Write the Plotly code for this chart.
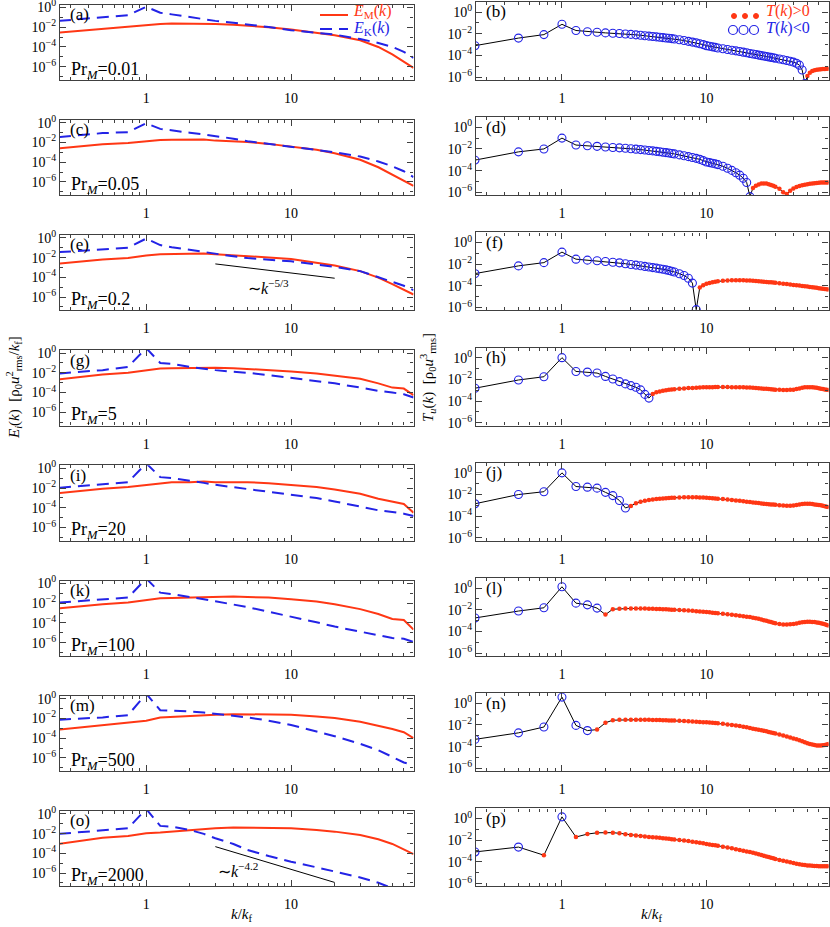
import plotly.graph_objects as go

W, H = 830, 927
SERIF = "Liberation Serif, Times New Roman, serif"
RED = "rgb(255,55,20)"
BLUE = "rgb(35,35,230)"
FRAME = "#404040"

# ---------------- data (log10 values) ----------------
# left column: magnetic (E_M) and kinetic (E_K) spectra
K_E = [0.25, 0.5, 0.75, 1, 1.25, 1.5, 2, 2.5, 3, 4, 5, 7, 10, 15, 20, 30, 40, 50, 60, 70]

EM_a = [-2.55, -2.14, -1.97, -1.77, -1.67, -1.63, -1.62, -1.62, -1.68, -1.76, -1.84, -2.0, -2.24, -2.55, -2.82, -3.33, -4.0, -4.75, -5.5, -6.12]
EK_a = [-1.36, -0.95, -0.78, 0.07, -0.54, -0.7, -1.0, -1.2, -1.36, -1.55, -1.7, -1.98, -2.3, -2.55, -2.75, -3.2, -3.6, -4.0, -4.5, -5.1]
EM_c = [-2.6, -2.18, -2.05, -1.88, -1.75, -1.73, -1.72, -1.7, -1.82, -1.9, -1.95, -2.15, -2.41, -2.75, -3.1, -3.76, -4.52, -5.25, -5.84, -6.4]
EK_c = [-1.45, -1.06, -0.96, -0.07, -0.63, -0.8, -1.02, -1.2, -1.35, -1.62, -1.88, -2.15, -2.44, -2.75, -3.0, -3.43, -3.93, -4.42, -4.92, -5.51]
EM_e = [-2.6, -2.18, -2.05, -1.78, -1.65, -1.63, -1.62, -1.58, -1.65, -1.74, -1.82, -1.98, -2.15, -2.5, -2.8, -3.37, -4.03, -4.69, -5.28, -5.74]
EK_e = [-1.45, -1.16, -1.0, -0.07, -0.73, -0.95, -1.22, -1.45, -1.65, -1.87, -2.05, -2.22, -2.38, -2.7, -2.94, -3.37, -3.96, -4.45, -4.85, -5.3]
EM_g = [-2.67, -2.17, -2.0, -1.73, -1.57, -1.53, -1.5, -1.45, -1.5, -1.53, -1.6, -1.7, -1.87, -2.07, -2.27, -2.6, -3.07, -3.5, -3.6, -4.27]
EK_g = [-2.07, -1.73, -1.4, 0.5, -1.0, -1.1, -1.4, -1.6, -1.73, -1.9, -2.0, -2.23, -2.5, -2.83, -3.07, -3.5, -3.83, -4.0, -4.17, -4.5]
EM_i = [-2.52, -2.08, -1.91, -1.68, -1.48, -1.41, -1.41, -1.35, -1.41, -1.38, -1.41, -1.51, -1.68, -1.91, -2.15, -2.58, -3.09, -3.42, -3.62, -4.5]
EK_i = [-1.98, -1.58, -1.41, 0.5, -0.9, -1.0, -1.24, -1.48, -1.68, -1.91, -2.08, -2.35, -2.68, -3.02, -3.36, -3.93, -4.26, -4.43, -4.6, -4.83]
EM_k = [-2.53, -2.1, -1.93, -1.67, -1.5, -1.47, -1.43, -1.37, -1.37, -1.33, -1.37, -1.43, -1.6, -1.83, -2.1, -2.6, -3.1, -3.6, -3.7, -4.67]
EK_k = [-1.93, -1.6, -1.43, 0.5, -0.93, -1.07, -1.33, -1.6, -1.8, -2.13, -2.4, -2.87, -3.33, -3.93, -4.37, -4.87, -5.27, -5.53, -5.6, -5.93]
EM_m = [-3.13, -2.67, -2.47, -2.23, -1.9, -1.83, -1.73, -1.63, -1.63, -1.57, -1.57, -1.57, -1.63, -1.8, -1.97, -2.33, -2.73, -3.07, -3.4, -4.0]
EK_m = [-2.13, -1.9, -1.67, 0.5, -1.17, -1.2, -1.3, -1.4, -1.53, -1.73, -1.9, -2.23, -2.67, -3.33, -3.8, -4.57, -5.23, -5.9, -6.47, -6.73]
EM_o = [-3.05, -2.41, -2.24, -1.97, -1.9, -1.8, -1.63, -1.49, -1.46, -1.39, -1.39, -1.39, -1.46, -1.63, -1.8, -2.14, -2.58, -3.05, -3.59, -4.07]
EK_o = [-2.03, -1.63, -1.46, 0.5, -1.22, -1.29, -1.63, -2.03, -2.47, -3.05, -3.66, -4.27, -4.85, -5.42, -5.86, -6.44, -6.98, -7.56, -8.0, -8.24]

# power-law guide lines (k, log10 E)
GUIDE_K = [3, 20]
GUIDE_E = [-2.64, -4.09]
GUIDE_O = [-3.32, -6.95]

# right column: transfer |T(k)| (log10), sign given by the negative intervals
K_T = [0.25, 0.5, 0.75, 1, 1.25, 1.5, 1.75, 2, 2.25, 2.5, 2.75, 3, 3.25, 3.5, 3.75, 4, 4.25, 4.5, 4.75, 5, 5.25, 5.5, 5.75, 6,
       6.5, 7, 7.5, 8, 8.5, 9, 9.5, 10, 10.5, 11, 11.5, 12,
       13, 14, 15, 16, 17, 18, 19, 20, 21, 22, 23, 24, 25, 26, 27, 28, 29, 30,
       32, 34, 36, 38, 40, 42, 44, 46, 48, 50, 52, 54, 56, 58, 60, 62, 64, 66, 68, 70]

T_b = [-3.1, -2.4, -2.08, -1.13, -1.7, -1.82, -1.86, -1.92, -1.95, -1.98, -2.02, -2.06, -2.1, -2.14, -2.18, -2.22, -2.26, -2.29, -2.32, -2.36, -2.39, -2.42, -2.45, -2.48,
       -2.56, -2.63, -2.7, -2.77, -2.84, -2.92, -3.0, -3.1, -3.16, -3.21, -3.26, -3.31,
       -3.38, -3.45, -3.52, -3.58, -3.64, -3.7, -3.76, -3.82, -3.87, -3.92, -3.97, -4.02, -4.06, -4.1, -4.14, -4.18, -4.22, -4.26,
       -4.33, -4.4, -4.47, -4.54, -4.62, -4.72, -4.9, -5.35, -6.6, -5.9, -5.6, -5.45, -5.38, -5.33, -5.3, -5.28, -5.26, -5.25, -5.24, -5.23]
T_d = [-3.03, -2.27, -2.0, -1.0, -1.64, -1.7, -1.76, -1.82, -1.86, -1.9, -1.94, -1.98, -2.02, -2.06, -2.1, -2.14, -2.18, -2.22, -2.26, -2.3, -2.34, -2.38, -2.42, -2.46,
       -2.55, -2.63, -2.71, -2.79, -2.87, -2.96, -3.08, -3.2, -3.26, -3.32, -3.38, -3.45,
       -3.6, -3.78, -3.98, -4.2, -4.42, -4.7, -5.1, -6.4, -5.6, -5.4, -5.28, -5.2, -5.18, -5.2, -5.25, -5.32, -5.4, -5.48,
       -5.68, -6.0, -6.15, -5.85, -5.65, -5.52, -5.42, -5.35, -5.3, -5.26, -5.22, -5.19, -5.16, -5.14, -5.12, -5.1, -5.1, -5.1, -5.1, -5.1]
T_f = [-2.87, -2.16, -1.86, -0.89, -1.54, -1.63, -1.69, -1.76, -1.82, -1.88, -1.96, -2.03, -2.09, -2.15, -2.21, -2.27, -2.32, -2.37, -2.42, -2.47, -2.53, -2.59, -2.65, -2.72,
       -2.88, -3.05, -3.3, -3.75, -6.2, -4.15, -3.95, -3.82, -3.74, -3.68, -3.63, -3.59,
       -3.54, -3.51, -3.49, -3.48, -3.48, -3.49, -3.5, -3.52, -3.54, -3.56, -3.58, -3.6, -3.62, -3.64, -3.66, -3.68, -3.7, -3.72,
       -3.76, -3.8, -3.84, -3.88, -3.92, -3.95, -3.98, -4.01, -4.04, -4.07, -4.1, -4.13, -4.16, -4.19, -4.22, -4.25, -4.27, -4.29, -4.31, -4.33]
T_h = [-2.82, -2.06, -1.76, 0.0, -1.27, -1.33, -1.42, -1.73, -1.97, -2.21, -2.42, -2.58, -2.73, -2.97, -3.39, -3.73, -3.35, -3.2, -3.12, -3.06, -3.01, -2.97, -2.94, -2.91,
       -2.87, -2.84, -2.81, -2.79, -2.77, -2.75, -2.74, -2.73, -2.72, -2.72, -2.71, -2.71,
       -2.71, -2.71, -2.72, -2.72, -2.73, -2.74, -2.75, -2.76, -2.78, -2.8, -2.82, -2.84, -2.86, -2.88, -2.9, -2.92, -2.94, -2.95,
       -2.97, -2.98, -2.98, -2.97, -2.95, -2.9, -2.84, -2.78, -2.74, -2.72, -2.72, -2.73, -2.75, -2.78, -2.82, -2.86, -2.9, -2.93, -2.96, -2.99]
T_j = [-2.85, -2.0, -1.74, 0.0, -1.26, -1.32, -1.41, -1.8, -2.1, -2.55, -3.24, -3.06, -2.8, -2.66, -2.58, -2.51, -2.46, -2.42, -2.39, -2.36, -2.34, -2.32, -2.3, -2.29,
       -2.27, -2.26, -2.25, -2.25, -2.26, -2.27, -2.28, -2.3, -2.32, -2.34, -2.36, -2.38,
       -2.42, -2.46, -2.5, -2.54, -2.58, -2.62, -2.66, -2.7, -2.73, -2.76, -2.79, -2.82, -2.85, -2.87, -2.89, -2.91, -2.93, -2.95,
       -2.98, -3.01, -3.03, -3.03, -3.01, -2.97, -2.92, -2.88, -2.86, -2.85, -2.86, -2.88, -2.91, -2.94, -2.97, -3.0, -3.04, -3.08, -3.12, -3.16]
T_l = [-2.76, -2.12, -1.82, 0.12, -1.39, -1.55, -1.85, -2.45, -1.95, -1.9, -1.89, -1.88, -1.88, -1.88, -1.89, -1.9, -1.91, -1.92, -1.93, -1.95, -1.96, -1.97, -1.99, -2.0,
       -2.02, -2.04, -2.07, -2.1, -2.13, -2.16, -2.19, -2.21, -2.24, -2.27, -2.3, -2.33,
       -2.38, -2.42, -2.46, -2.5, -2.55, -2.6, -2.64, -2.68, -2.73, -2.78, -2.84, -2.9, -2.96, -3.02, -3.08, -3.14, -3.2, -3.25,
       -3.32, -3.36, -3.37, -3.35, -3.31, -3.26, -3.2, -3.16, -3.13, -3.11, -3.11, -3.12, -3.14, -3.17, -3.21, -3.25, -3.3, -3.35, -3.4, -3.45]
T_n = [-3.33, -2.73, -2.19, 0.57, -2.04, -2.52, -2.43, -1.8, -1.56, -1.53, -1.52, -1.52, -1.52, -1.52, -1.53, -1.53, -1.54, -1.54, -1.55, -1.56, -1.57, -1.58, -1.59, -1.6,
       -1.62, -1.64, -1.66, -1.68, -1.7, -1.72, -1.74, -1.76, -1.78, -1.8, -1.82, -1.84,
       -1.9, -1.95, -2.0, -2.05, -2.1, -2.16, -2.22, -2.28, -2.34, -2.39, -2.44, -2.49, -2.54, -2.59, -2.64, -2.69, -2.74, -2.79,
       -2.88, -2.97, -3.06, -3.15, -3.24, -3.33, -3.42, -3.51, -3.6, -3.68, -3.75, -3.81, -3.86, -3.89, -3.9, -3.89, -3.87, -3.84, -3.8, -3.76]
T_p = [-3.09, -2.64, -3.39, 0.15, -1.71, -1.44, -1.32, -1.29, -1.31, -1.37, -1.45, -1.52, -1.57, -1.62, -1.66, -1.7, -1.73, -1.76, -1.79, -1.82, -1.85, -1.88, -1.91, -1.94,
       -1.99, -2.04, -2.09, -2.14, -2.19, -2.24, -2.29, -2.36, -2.4, -2.44, -2.48, -2.52,
       -2.6, -2.68, -2.76, -2.84, -2.91, -2.98, -3.04, -3.1, -3.17, -3.24, -3.31, -3.38, -3.44, -3.5, -3.56, -3.62, -3.68, -3.74,
       -3.83, -3.91, -3.98, -4.05, -4.12, -4.18, -4.23, -4.27, -4.3, -4.33, -4.35, -4.37, -4.38, -4.39, -4.4, -4.4, -4.4, -4.4, -4.4, -4.4]

# k-intervals where T(k) < 0
NEG_b = [(0.25, 48)]
NEG_d = [(0.25, 20)]
NEG_f = [(0.25, 8.5)]
NEG_h = [(0.25, 4)]
NEG_j = [(0.25, 2.75)]
NEG_l = [(0.25, 1.75)]
NEG_n = [(0.25, 1.5)]
NEG_p = [(0.25, 0.5), (1, 1)]

PR_M = ["0.01", "0.05", "0.2", "5", "20", "100", "500", "2000"]
LETTERS = "abcdefghijklmnop"

SPECTRA = [(EM_a, EK_a), (EM_c, EK_c), (EM_e, EK_e), (EM_g, EK_g),
           (EM_i, EK_i), (EM_k, EK_k), (EM_m, EK_m), (EM_o, EK_o)]
TRANSFER = [(T_b, NEG_b), (T_d, NEG_d), (T_f, NEG_f), (T_h, NEG_h),
            (T_j, NEG_j), (T_l, NEG_l), (T_n, NEG_n), (T_p, NEG_p)]

# ---------------- layout helpers (pixel -> paper) ----------------
def fx(p):
    return p / W


def fy(p):
    return 1 - p / H


ROW = 115.2
COLS = [(60, 413.5), (476, 828.5)]
X_MINOR = [0.3, 0.4, 0.5, 0.6, 0.7, 0.8, 0.9, 2, 3, 4, 5, 6, 7, 8, 9, 20, 30, 40, 50, 60, 70]
Y_MAJOR = [1, 1e-2, 1e-4, 1e-6]
Y_TEXT = ["10<sup>0</sup>", "10<sup>\u22122</sup>", "10<sup>\u22124</sup>", "10<sup>\u22126</sup>"]
Y_MINOR = [1e-1, 1e-3, 1e-5, 1e-7]

fig = go.Figure()
axes = {}
annotations = []
shapes = []


def panel_box(row, col):
    if col == 0:
        return 4.5 + ROW * row, 80 + ROW * row
    return 2 + ROW * row, 80 + ROW * row


for row in range(8):
    for col in range(2):
        n = 2 * row + col + 1
        top, bot = panel_box(row, col)
        left, right = COLS[col]
        xa, ya = f"x{n}", f"y{n}"
        axes[f"xaxis{n}"] = dict(
            domain=[fx(left), fx(right)], anchor=ya, type="log", automargin=False,
            range=[-0.595, 1.845], showgrid=False, zeroline=False,
            showline=True, linecolor=FRAME, linewidth=1.3, mirror="ticks",
            ticks="inside", ticklen=6, tickwidth=1, tickcolor=FRAME,
            tickvals=[1, 10], ticktext=["1", "10"], ticklabelstandoff=5,
            ticklabeloverflow="allow",
            tickfont=dict(family=SERIF, size=14, color="black"),
            minor=dict(ticks="inside", ticklen=3, tickwidth=1, tickcolor=FRAME, tickvals=X_MINOR),
        )
        yr = [-7.35, 0.3] if col == 0 else [-6.27, 0.93]
        axes[f"yaxis{n}"] = dict(
            domain=[fy(bot), fy(top)], anchor=xa, type="log", automargin=False,
            range=yr, showgrid=False, zeroline=False,
            showline=True, linecolor=FRAME, linewidth=1.3, mirror="ticks",
            ticks="inside", ticklen=6, tickwidth=1, tickcolor=FRAME,
            tickvals=Y_MAJOR, ticktext=Y_TEXT, ticklabeloverflow="allow",
            tickfont=dict(family=SERIF, size=14, color="black"),
            minor=dict(ticks="inside", ticklen=3, tickwidth=1, tickcolor=FRAME, tickvals=Y_MINOR),
        )

        annotations.append(dict(
            text=f"({LETTERS[n - 1]})", xref="paper", yref="paper",
            x=fx(left + 8), y=fy(top + 10), xanchor="left", yanchor="middle",
            showarrow=False, font=dict(family=SERIF, size=17, color="black")))

        if col == 0:
            em, ek = SPECTRA[row]
            fig.add_trace(go.Scatter(
                x=K_E, y=[10 ** v for v in em], mode="lines",
                line=dict(color=RED, width=2), xaxis=xa, yaxis=ya, showlegend=False))
            fig.add_trace(go.Scatter(
                x=K_E, y=[10 ** v for v in ek], mode="lines",
                line=dict(color=BLUE, width=2, dash="12px,7px"), xaxis=xa, yaxis=ya, showlegend=False))
            annotations.append(dict(
                text=f"Pr<sub><i>M</i></sub>={PR_M[row]}", xref="paper", yref="paper",
                x=fx(left + 9), y=fy(bot - 10), xanchor="left", yanchor="middle",
                showarrow=False, font=dict(family=SERIF, size=18, color="black")))
        else:
            t, neg = TRANSFER[row]
            vals = [10 ** v for v in t]
            is_neg = [any(a <= k <= b for a, b in neg) for k in K_T]
            fig.add_trace(go.Scatter(
                x=K_T, y=vals, mode="lines", line=dict(color="black", width=1),
                xaxis=xa, yaxis=ya, showlegend=False))
            fig.add_trace(go.Scatter(
                x=[k for k, s in zip(K_T, is_neg) if s], y=[v for v, s in zip(vals, is_neg) if s],
                mode="markers", marker=dict(symbol="circle-open", size=8, color=BLUE, line=dict(width=1.1)),
                xaxis=xa, yaxis=ya, showlegend=False))
            fig.add_trace(go.Scatter(
                x=[k for k, s in zip(K_T, is_neg) if not s], y=[v for v, s in zip(vals, is_neg) if not s],
                mode="markers", marker=dict(symbol="circle", size=4.5, color=RED),
                xaxis=xa, yaxis=ya, showlegend=False))

# guide lines in (e) and (o)
for n, g in [(5, GUIDE_E), (15, GUIDE_O)]:
    fig.add_trace(go.Scatter(
        x=GUIDE_K, y=[10 ** v for v in g], mode="lines", line=dict(color="black", width=1),
        xaxis=f"x{n}", yaxis=f"y{n}", showlegend=False))
annotations.append(dict(text="\u223c<i>k</i><sup>\u22125/3</sup>", xref="x5", yref="y5",
                        x=0.843, y=-5.0, showarrow=False,
                        font=dict(family=SERIF, size=16, color="black")))
annotations.append(dict(text="\u223c<i>k</i><sup>\u22124.2</sup>", xref="x15", yref="y15",
                        x=0.634, y=-5.65, showarrow=False,
                        font=dict(family=SERIF, size=16, color="black")))

# legend of (a)
shapes.append(dict(type="line", xref="paper", yref="paper", x0=fx(320), x1=fx(348), y0=fy(15), y1=fy(15),
                   line=dict(color=RED, width=2)))
shapes.append(dict(type="line", xref="paper", yref="paper", x0=fx(320), x1=fx(348), y0=fy(29), y1=fy(29),
                   line=dict(color=BLUE, width=2, dash="12px,7px")))
annotations.append(dict(text="<i>E</i><sub>M</sub>(<i>k</i>)", xref="paper", yref="paper",
                        x=fx(351), y=fy(11.5), xanchor="left", yanchor="middle", showarrow=False,
                        font=dict(family=SERIF, size=16, color=RED)))
annotations.append(dict(text="<i>E</i><sub>K</sub>(<i>k</i>)", xref="paper", yref="paper",
                        x=fx(351), y=fy(28), xanchor="left", yanchor="middle", showarrow=False,
                        font=dict(family=SERIF, size=16, color=BLUE)))

# legend of (b)
for cx in [734, 745, 756]:
    shapes.append(dict(type="circle", xref="paper", yref="paper", x0=fx(cx - 2.5), x1=fx(cx + 2.5),
                       y0=fy(16 + 2.5), y1=fy(16 - 2.5), fillcolor=RED, line=dict(color=RED, width=1)))
for cx in [733, 743.5, 754]:
    shapes.append(dict(type="circle", xref="paper", yref="paper", x0=fx(cx - 4.5), x1=fx(cx + 4.5),
                       y0=fy(30 + 4.5), y1=fy(30 - 4.5), line=dict(color=BLUE, width=1.2)))
annotations.append(dict(text="<i>T</i>(<i>k</i>)&gt;0", xref="paper", yref="paper",
                        x=fx(764), y=fy(11.5), xanchor="left", yanchor="middle", showarrow=False,
                        font=dict(family=SERIF, size=16, color=RED)))
annotations.append(dict(text="<i>T</i>(<i>k</i>)&lt;0", xref="paper", yref="paper",
                        x=fx(764), y=fy(28), xanchor="left", yanchor="middle", showarrow=False,
                        font=dict(family=SERIF, size=16, color=BLUE)))

# axis titles
annotations.append(dict(
    text="<i>E</i><sub><i>i</i></sub>(<i>k</i>)  [\u03c1<sub>0</sub><i>u</i><sup>2</sup><sub>rms</sub>/<i>k</i><sub>f</sub>]",
    xref="paper", yref="paper", x=fx(14), y=fy(388), textangle=-90, showarrow=False,
    xanchor="center", yanchor="middle", font=dict(family=SERIF, size=15, color="black")))
annotations.append(dict(
    text="<i>T</i><sub><i>u</i></sub>(<i>k</i>)  [\u03c1<sub>0</sub><i>u</i><sup>3</sup><sub>rms</sub>]",
    xref="paper", yref="paper", x=fx(428), y=fy(378), textangle=-90, showarrow=False,
    xanchor="center", yanchor="middle", font=dict(family=SERIF, size=15, color="black")))
for cx in [242, 652]:
    annotations.append(dict(text="<i>k</i>/<i>k</i><sub>f</sub>", xref="paper", yref="paper",
                            x=fx(cx), y=fy(915), showarrow=False, xanchor="center", yanchor="middle",
                            font=dict(family=SERIF, size=15, color="black")))

fig.update_layout(
    width=W, height=H, margin=dict(l=0, r=0, t=0, b=0),
    paper_bgcolor="white", plot_bgcolor="white", showlegend=False,
    annotations=annotations, shapes=shapes, **axes,
)

# the page body has a default 8px margin; drop it so the figure sits at the window origin
fig.write_html("out.html", config={"displayModeBar": False},
               post_script="document.body.style.margin='0';")
